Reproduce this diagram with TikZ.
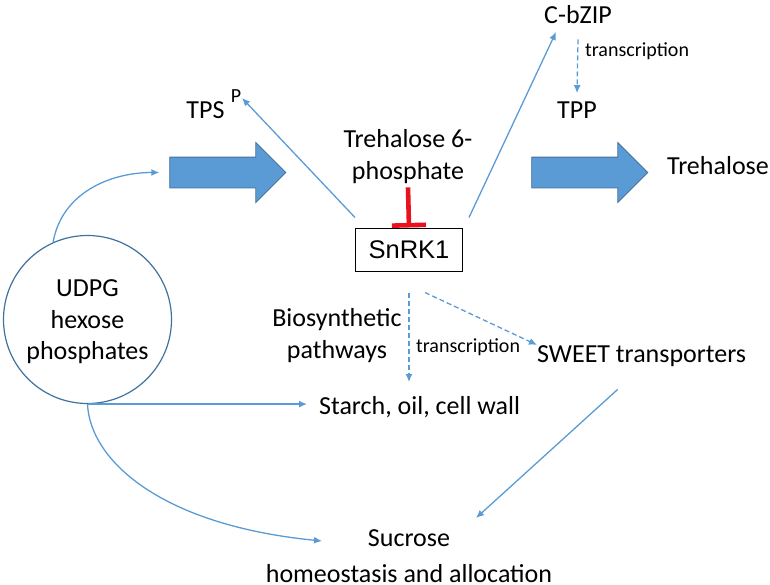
\documentclass[tikz,border=0pt]{standalone}
\usepackage{fontspec}
\setmainfont{Carlito}
\newfontfamily\arialfont{Liberation Sans}
\usetikzlibrary{arrows.meta,shapes.arrows}
\definecolor{linkblue}{RGB}{91,155,213}
\definecolor{edgeblue}{RGB}{65,113,156}
\definecolor{inhred}{RGB}{232,17,28}

\begin{document}
\begin{tikzpicture}[x=1pt, y=-1pt,
    lbl/.style={font=\fontsize{26}{31.5}\selectfont, inner sep=0pt, align=center},
    lblsmall/.style={font=\fontsize{20}{24}\selectfont, inner sep=0pt},
    link/.style={draw=linkblue, line width=1.3pt, -{Latex[length=8pt,width=7pt]}},
    linkdash/.style={link, dash pattern=on 5pt off 3pt},
    bigarrow/.style={single arrow, fill=linkblue, draw=edgeblue, line width=0.8pt,
        minimum height=116pt, inner xsep=0pt, inner ysep=15pt, single arrow head extend=14.5pt}]
    \useasboundingbox (0,0) rectangle (770,584);

    % pool and the two big flux arrows
    \node[circle, draw=edgeblue, line width=1.2pt, minimum size=168pt, inner sep=0pt] (pool) at (87.5,319.5) {};
    \node[lbl, anchor=base] (poolText) at (87.5,359.5) {UDPG\\hexose\\phosphates};
    \node[bigarrow] (fluxLeft) at (220,172.5) {};
    \node[bigarrow] (fluxRight) at (582,172.5) {};

    % labels
    \node[lbl, anchor=base] (tps) at (205.5,118) {TPS};
    \node[lblsmall, anchor=base] (phos) at (236,102) {P};
    \node[lbl, anchor=base] (t6p) at (408,179) {Trehalose 6-\\phosphate};
    \node[draw, line width=1pt, minimum width=107pt, minimum height=43pt, inner sep=0pt,
        font=\arialfont\fontsize{25.5}{30}\selectfont] (snrk) at (409,249.5) {SnRK1};
    \node[lbl, anchor=base] (cbzip) at (578,23) {C-bZIP};
    \node[lblsmall, anchor=base west] (trTop) at (585,56) {transcription};
    \node[lbl, anchor=base] (tpp) at (577,118) {TPP};
    \node[lbl, anchor=base west] (trehalose) at (667,174) {Trehalose};
    \node[lbl, anchor=base] (bios) at (337,358) {Biosynthetic\\pathways};
    \node[lblsmall, anchor=base west] (trMid) at (416,352) {transcription};
    \node[lbl, anchor=base west] (sweet) at (537,362) {SWEET transporters};
    \node[lbl, anchor=base west] (starch) at (319,414) {Starch, oil, cell wall};
    \node[lbl, anchor=base] (sucrose) at (409,582) {Sucrose\\[4.5pt]homeostasis and allocation};

    % free ends
    \coordinate (tpsIn) at (242,98);
    \coordinate (cbzipIn) at (556,32);
    \coordinate (starchIn) at (409,382);
    \coordinate (sucroseIn) at (322,541);
    \coordinate (sucroseIn2) at (476,518);

    % connectors
    \draw[link] (pool.114) to[out=80, in=180] ([xshift=-10pt]fluxLeft.tail);
    \draw[link] ([shift={(0,-10)}]snrk.north west) -- (tpsIn);
    \draw[link] ([shift={(6,-10)}]snrk.north east) -- (cbzipIn);
    \draw[linkdash] ([yshift=-16pt]cbzip.south) -- ([yshift=8pt]tpp.north);
    \draw[draw=inhred, line width=4.6pt, -{Bar[width=34pt]}] ([yshift=-4pt]t6p.south) -- (snrk.north);
    \draw[linkdash] ([yshift=-21pt]snrk.south) -- (starchIn);
    \draw[linkdash] ([shift={(16,21)}]snrk.south) -- (sweet.north west);
    \draw[link, shorten >=12pt] (pool.south) -- (starch.west |- pool.south);
    \draw[link] (pool.south) .. controls (90,460) and (160,525) .. (sucroseIn);
    \draw[link] ([shift={(-24,23)}]sweet.south) -- (sucroseIn2);
\end{tikzpicture}
\end{document}
